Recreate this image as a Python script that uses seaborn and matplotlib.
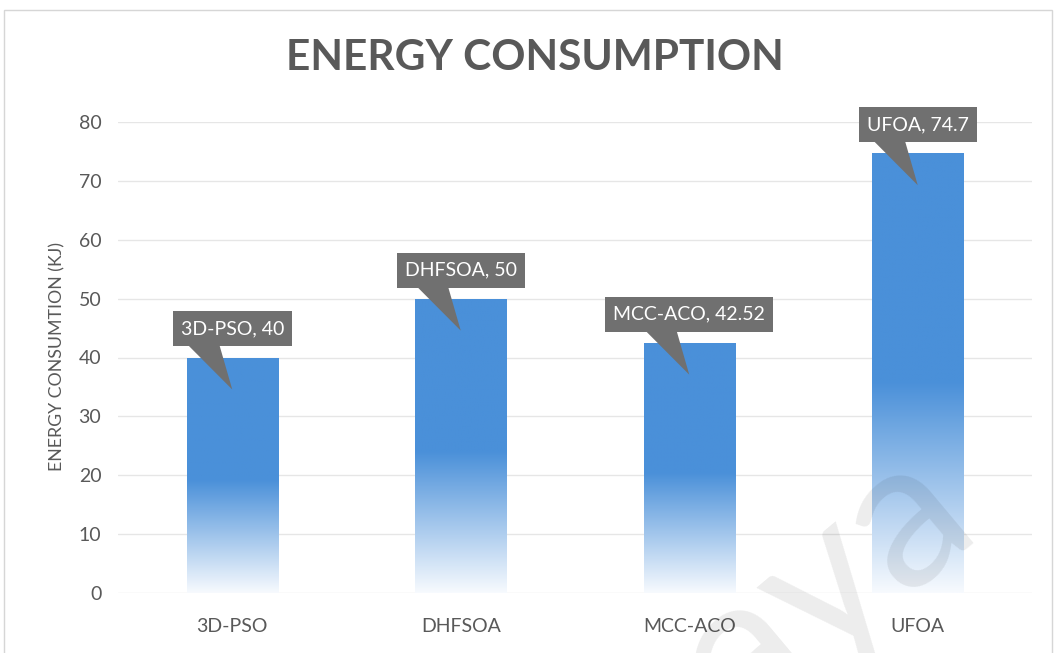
import numpy as np
import pandas as pd
import matplotlib
matplotlib.use("Agg")
import matplotlib.pyplot as plt
import seaborn as sns
from matplotlib.patches import Rectangle, Polygon
from matplotlib.colors import LinearSegmentedColormap

# Data
algorithms = ["3D-PSO", "DHFSOA", "MCC-ACO", "UFOA"]
energy_kj = [40, 50, 42.52, 74.7]
value_text = ["40", "50", "42.52", "74.7"]
y_ticks = [0, 10, 20, 30, 40, 50, 60, 70, 80]

BAR_BLUE = "#4A90D9"
TEXT_GREY = "#595959"
CALLOUT_GREY = "#707070"

sns.set_theme(style="white")
plt.rcParams["font.family"] = ["Lato", "DejaVu Sans"]

W, H = 1057, 653
fig = plt.figure(figsize=(W / 100, H / 100), dpi=100)
fig.patch.set_facecolor("white")
ax = fig.add_axes([118 / W, 1 - 593 / H, 914 / W, 471 / H])

df = pd.DataFrame({"algorithm": algorithms, "energy": energy_kj})
sns.barplot(data=df, x="algorithm", y="energy", width=0.4, color=BAR_BLUE,
            saturation=1, ax=ax, zorder=2)

# Vertical fade: solid blue in the upper half, fading to white at the base
fade = LinearSegmentedColormap.from_list(
    "fade", [(0.0, "#F7FAFE"), (0.48, BAR_BLUE), (1.0, BAR_BLUE)])
ramp = np.linspace(0, 1, 256).reshape(-1, 1)
for p in list(ax.patches):
    x0, w, h = p.get_x(), p.get_width(), p.get_height()
    im = ax.imshow(ramp, extent=[x0, x0 + w, 0, h], origin="lower",
                   cmap=fade, aspect="auto", zorder=2, interpolation="bilinear")
    im.set_clip_path(p)
    p.set_facecolor("none")
    p.set_edgecolor("none")

ax.set_xlim(-0.5, 3.5)
ax.set_ylim(0, 80)
ax.set_yticks(y_ticks)
ax.yaxis.grid(True, color="#e6e6e6", linewidth=1.0)
ax.xaxis.grid(False)
ax.set_axisbelow(True)
for s in ax.spines.values():
    s.set_visible(False)
ax.tick_params(axis="both", length=0, labelsize=14, colors=TEXT_GREY)
ax.tick_params(axis="x", pad=18)
ax.tick_params(axis="y", pad=12)
ax.set_xlabel("")
ax.set_ylabel("")

fig.text(57 / W, 1 - 357 / H, "ENERGY CONSUMTION (KJ)", rotation=90,
         ha="center", va="center", fontsize=12.8, color=TEXT_GREY)
fig.text(535 / W, 1 - 58 / H, "ENERGY CONSUMPTION", ha="center", va="center",
         fontsize=30.5, fontweight="bold", color=TEXT_GREY)

# Callout labels: grey box above each bar with a pointer into the bar
fig.canvas.draw()
renderer = fig.canvas.get_renderer()
inv = ax.transData.inverted()
px_x = 1 / (914 / 4)   # data units per pixel (x)
px_y = 80 / 471        # data units per pixel (y)
for i, (name, v, vt) in enumerate(zip(algorithms, energy_kj, value_text)):
    gap = 11 * px_y
    box_h = 35 * px_y
    t = ax.text(i, v + gap + box_h / 2, f"{name}, {vt}", ha="center",
                va="center", color="white", fontsize=14, zorder=6,
                clip_on=False)
    bb = t.get_window_extent(renderer)
    (bx0, _), (bx1, _) = inv.transform([[bb.x0, bb.y0], [bb.x1, bb.y1]])
    pad = 8 * px_x
    ax.add_patch(Rectangle((bx0 - pad, v + gap), (bx1 - bx0) + 2 * pad, box_h,
                           facecolor=CALLOUT_GREY, edgecolor="none",
                           zorder=5, clip_on=False))
    ax.add_patch(Polygon([[i - 0.19, v + gap + 0.1], [i - 0.055, v + gap + 0.1],
                          [i, v - 32 * px_y]], closed=True,
                         facecolor=CALLOUT_GREY, edgecolor="none",
                         zorder=5, clip_on=False))

# Chart frame
fig.add_artist(Rectangle((4 / W, -0.01), 1048 / W, (H - 10) / H + 0.01,
                         transform=fig.transFigure, fill=False,
                         edgecolor="#d6d6d6", linewidth=1.0))

# Faint diagonal watermark
fig.text(983 / W, 1 - 529 / H, "aya", rotation=40, rotation_mode="anchor",
         ha="right", va="baseline", fontsize=150, color="#000000", alpha=0.075,
         zorder=10)

fig.savefig("out.png", dpi=100, facecolor="white")
